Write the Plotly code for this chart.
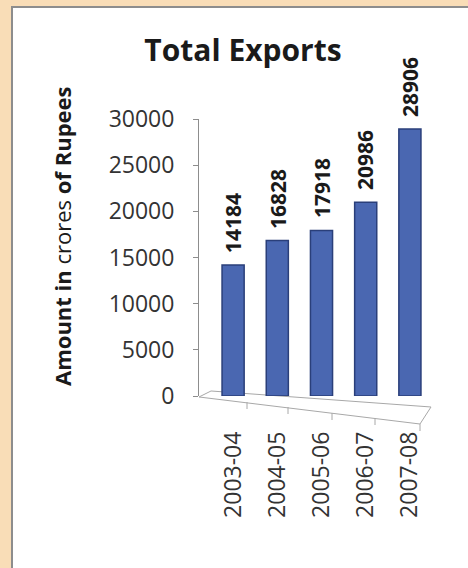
import plotly.graph_objects as go

categories = ["2003-04", "2004-05", "2005-06", "2006-07", "2007-08"]
exports = [14184, 16828, 17918, 20986, 28906]
y_ticks = [0, 5000, 10000, 15000, 20000, 25000, 30000]

W, H = 468, 568
L, R, T, B = 198, 36, 119, 172
PW, PH = W - L - R, H - T - B


def px(x, y):
    return (x - L) / PW, (H - B - y) / PH


def path(points):
    s = ""
    for i, (x, y) in enumerate(points):
        xp, yp = px(x, y)
        s += ("M" if i == 0 else "L") + f"{xp:.4f},{yp:.4f} "
    return s + "Z"


font = "Open Sans"

fig = go.Figure()
fig.add_trace(go.Bar(
    x=categories, y=exports,
    marker=dict(color="#4a67b1", line=dict(color="#2a3f7a", width=1.5)),
    width=0.5,
    hoverinfo="skip",
))

shapes = []
# white panel with grey border
x0, y0 = px(12, 575)
x1, y1 = px(475, 7)
shapes.append(dict(type="rect", xref="paper", yref="paper", x0=x0, y0=y0, x1=x1, y1=y1,
                   fillcolor="white", line=dict(color="#8d8d8d", width=2), layer="below"))
# 3D floor (decoration)
shapes.append(dict(type="path", xref="paper", yref="paper",
                   path=path([(199, 397), (420, 424), (431, 407), (211, 391)]),
                   fillcolor="rgba(0,0,0,0)", line=dict(color="#a8a8a8", width=1), layer="below"))
for tx, ty in [(247, 402), (288, 407), (332, 413), (375, 418), (420, 424)]:
    a, b = px(tx, ty)
    c, d = px(tx, ty + 7)
    shapes.append(dict(type="line", xref="paper", yref="paper", x0=a, y0=b, x1=c, y1=d,
                       line=dict(color="#a8a8a8", width=1)))

annotations = []
for c, v in zip(categories, exports):
    annotations.append(dict(x=c, y=v, xref="x", yref="y", text=f"<b>{v}</b>",
                            textangle=-90, showarrow=False, yanchor="bottom",
                            xanchor="center", yshift=10,
                            font=dict(family=font, size=21, color="#1a1a1a")))
ax, ay = px(62, 236)
annotations.append(dict(x=ax, y=ay, xref="paper", yref="paper",
                        text="<b>Amount in</b> crores <b>of Rupees</b>",
                        textangle=-90, showarrow=False, xanchor="center", yanchor="middle",
                        font=dict(family=font, size=22, color="#1a1a1a")))

fig.update_layout(
    width=W, height=H,
    margin=dict(l=L, r=R, t=T, b=B),
    paper_bgcolor="#f9ddb7",
    plot_bgcolor="rgba(0,0,0,0)",
    showlegend=False,
    title=dict(text="<b>Total Exports</b>", x=243 / W, xanchor="center",
               y=1 - 50 / H, yanchor="middle",
               font=dict(family=font, size=30, color="#1a1a1a")),
    xaxis=dict(type="category", domain=[13 / PW, 1], showline=False, ticks="",
               showgrid=False, tickangle=-90, ticklabelstandoff=30,
               tickfont=dict(family=font, size=23, color="#333333")),
    yaxis=dict(range=[0, 30000], tickvals=y_ticks, ticktext=[str(t) for t in y_ticks],
               anchor="free", position=0,
               showline=True, linecolor="#8d8d8d", linewidth=1,
               ticks="outside", ticklen=5, tickcolor="#8d8d8d",
               showgrid=False, zeroline=False, ticklabelstandoff=14,
               tickfont=dict(family=font, size=23, color="#333333")),
    shapes=shapes,
    annotations=annotations,
)

fig.write_html("out.html")
